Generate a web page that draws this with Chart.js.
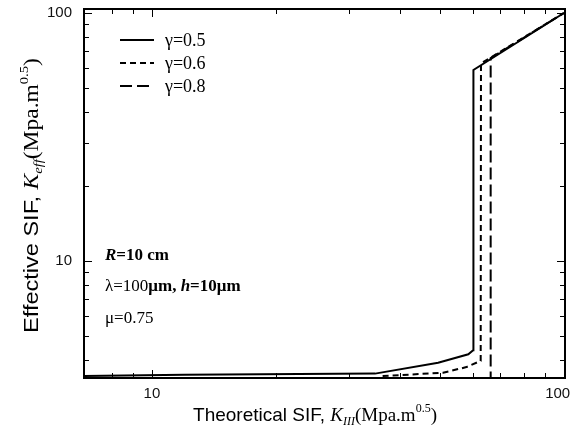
<!DOCTYPE html>
<html>
<head>
<meta charset="utf-8">
<script src="https://cdn.jsdelivr.net/npm/chart.js@4.4.1/dist/chart.umd.min.js"></script>
<style>
  html, body { margin: 0; padding: 0; background: #fff; }
</style>
</head>
<body>
<canvas id="chart" width="572" height="432"></canvas>
<script>
// gamma = 0.5 (solid)
const g05X = [6.5, 12, 34.8, 49.5, 58.6, 60.2, 60.3, 100];
const g05Y = [3.43, 3.47, 3.51, 3.88, 4.2, 4.36, 58.9, 100];
// gamma = 0.6 (short dashes)
const g06X = [36.3, 50.9, 58.0, 62.8, 62.9, 100];
const g06Y = [3.43, 3.54, 3.73, 3.95, 62.6, 100];
// gamma = 0.8 (long dashes)
const g08X = [66.4, 66.4, 100];
const g08Y = [3.2, 65.8, 100];

const seriesLabels = ['\u03b3=0.5', '\u03b3=0.6', '\u03b3=0.8'];
const xTickLabels = [10, 100];
const yTickLabels = [10, 100];

const SANS = '"Liberation Sans", Arial, sans-serif';
const SERIF = '"Liberation Serif", "Times New Roman", serif';

const toPoints = (xs, ys) => xs.map((x, i) => ({ x: x, y: ys[i] }));

// text made of pieces with different fonts (italic K, subscripts...)
const drawRich = (ctx, parts, x, y, align) => {
  let total = 0;
  parts.forEach(p => { ctx.font = p.font; total += ctx.measureText(p.t).width; });
  let cx = align === 'center' ? x - total / 2 : x;
  parts.forEach(p => {
    ctx.font = p.font;
    ctx.fillText(p.t, cx, y + (p.dy || 0));
    cx += ctx.measureText(p.t).width;
  });
};

const isNice = v => {
  const p = Math.pow(10, Math.floor(Math.log10(v) + 1e-9));
  return Math.abs(v / p - Math.round(v / p)) < 1e-6;
};

const decorations = {
  id: 'decorations',
  afterDatasetsDraw(chart) {
    const { ctx, chartArea: a, scales: { x, y } } = chart;
    ctx.save();
    ctx.strokeStyle = '#000';
    ctx.lineWidth = 1;
    ctx.setLineDash([]);
    const seg = (x1, y1, x2, y2) => { ctx.beginPath(); ctx.moveTo(x1, y1); ctx.lineTo(x2, y2); ctx.stroke(); };

    // inward ticks on all four sides
    x.ticks.forEach(t => {
      if (!isNice(t.value)) return;
      const px = Math.round(x.getPixelForValue(t.value)) + 0.5;
      const len = xTickLabels.includes(t.value) ? 8 : 5;
      seg(px, a.bottom, px, a.bottom - len);
      seg(px, a.top, px, a.top + len);
    });
    y.ticks.forEach(t => {
      if (!isNice(t.value)) return;
      const py = Math.round(y.getPixelForValue(t.value)) + 0.5;
      const len = yTickLabels.includes(t.value) ? 8 : 5;
      seg(a.left, py, a.left + len, py);
      seg(a.right, py, a.right - len, py);
    });

    // frame
    ctx.lineWidth = 2;
    ctx.strokeRect(a.left, a.top, a.right - a.left, a.bottom - a.top);

    ctx.fillStyle = '#000';
    ctx.textBaseline = 'alphabetic';

    // legend
    chart.data.datasets.forEach((ds, i) => {
      const ly = 40 + i * 23;
      ctx.lineWidth = 2;
      ctx.setLineDash(ds.borderDash || []);
      seg(120, ly, 154, ly);
      ctx.setLineDash([]);
      ctx.font = '18px ' + SERIF;
      ctx.fillText(ds.label, 165, ly + 6);
    });

    // parameter notes
    drawRich(ctx, [
      { t: 'R', font: 'italic bold 17px ' + SERIF },
      { t: '=10 cm', font: 'bold 17px ' + SERIF }
    ], 105, 260);
    drawRich(ctx, [
      { t: '\u03bb=100', font: '17px ' + SERIF },
      { t: '\u03bcm, ', font: 'bold 17px ' + SERIF },
      { t: 'h', font: 'italic bold 17px ' + SERIF },
      { t: '=10\u03bcm', font: 'bold 17px ' + SERIF }
    ], 105, 291);
    drawRich(ctx, [
      { t: '\u03bc=0.75', font: '17px ' + SERIF }
    ], 105, 323);

    // axis titles
    drawRich(ctx, [
      { t: 'Theoretical SIF, ', font: '19px ' + SANS },
      { t: 'K', font: 'italic 19px ' + SERIF },
      { t: 'III', font: 'italic 12px ' + SERIF, dy: 4 },
      { t: '(Mpa.m', font: '19px ' + SERIF },
      { t: '0.5', font: '12px ' + SERIF, dy: -9 },
      { t: ')', font: '19px ' + SERIF }
    ], 315, 421, 'center');

    // the y title is drawn a little stretched along its length, as in the figure
    ctx.translate(38, (a.top + a.bottom) / 2 + 2);
    ctx.rotate(-Math.PI / 2);
    ctx.scale(1.12, 1);
    drawRich(ctx, [
      { t: 'Effective SIF, ', font: '21px ' + SANS },
      { t: 'K', font: 'italic 21px ' + SERIF },
      { t: 'eff', font: 'italic 13px ' + SERIF, dy: 4 },
      { t: '(Mpa.m', font: '21px ' + SERIF },
      { t: '0.5', font: '13px ' + SERIF, dy: -10 },
      { t: ')', font: '21px ' + SERIF }
    ], 0, 0, 'center');
    ctx.restore();
  }
};

const ctx = document.getElementById('chart').getContext('2d');
new Chart(ctx, {
  type: 'line',
  data: {
    datasets: [
      { label: seriesLabels[0], data: toPoints(g05X, g05Y), borderColor: '#000', borderWidth: 2, borderDash: [] },
      { label: seriesLabels[1], data: toPoints(g06X, g06Y), borderColor: '#000', borderWidth: 2, borderDash: [6, 4] },
      { label: seriesLabels[2], data: toPoints(g08X, g08Y), borderColor: '#000', borderWidth: 2, borderDash: [12, 5] }
    ]
  },
  options: {
    responsive: false,
    animation: false,
    layout: { padding: { top: 9, right: 7, left: 0, bottom: 0 } },
    elements: { point: { radius: 0 }, line: { tension: 0 } },
    plugins: { legend: { display: false }, tooltip: { enabled: false } },
    scales: {
      x: {
        type: 'logarithmic',
        min: 6.84,
        max: 100.6,
        grid: { display: false, drawTicks: false },
        border: { display: false },
        ticks: {
          autoSkip: false,
          maxRotation: 0,
          padding: 7,
          color: '#111',
          font: { family: SANS, size: 15 },
          // shift the last label a bit left so it stays inside the page
          callback: v => xTickLabels.includes(v) ? (v === 100 ? '100   ' : String(v)) : ''
        },
        afterFit: s => { s.height = 54; s.paddingLeft = 0; s.paddingRight = 0; }
      },
      y: {
        type: 'logarithmic',
        min: 3.37,
        max: 103.8,
        grid: { display: false, drawTicks: false },
        border: { display: false },
        ticks: {
          autoSkip: false,
          padding: 12,
          color: '#111',
          font: { family: SANS, size: 15 },
          callback: v => yTickLabels.includes(v) ? String(v) : ''
        },
        afterFit: s => { s.width = 84; s.paddingTop = 0; s.paddingBottom = 0; }
      }
    }
  },
  plugins: [decorations]
});
</script>
</body>
</html>
